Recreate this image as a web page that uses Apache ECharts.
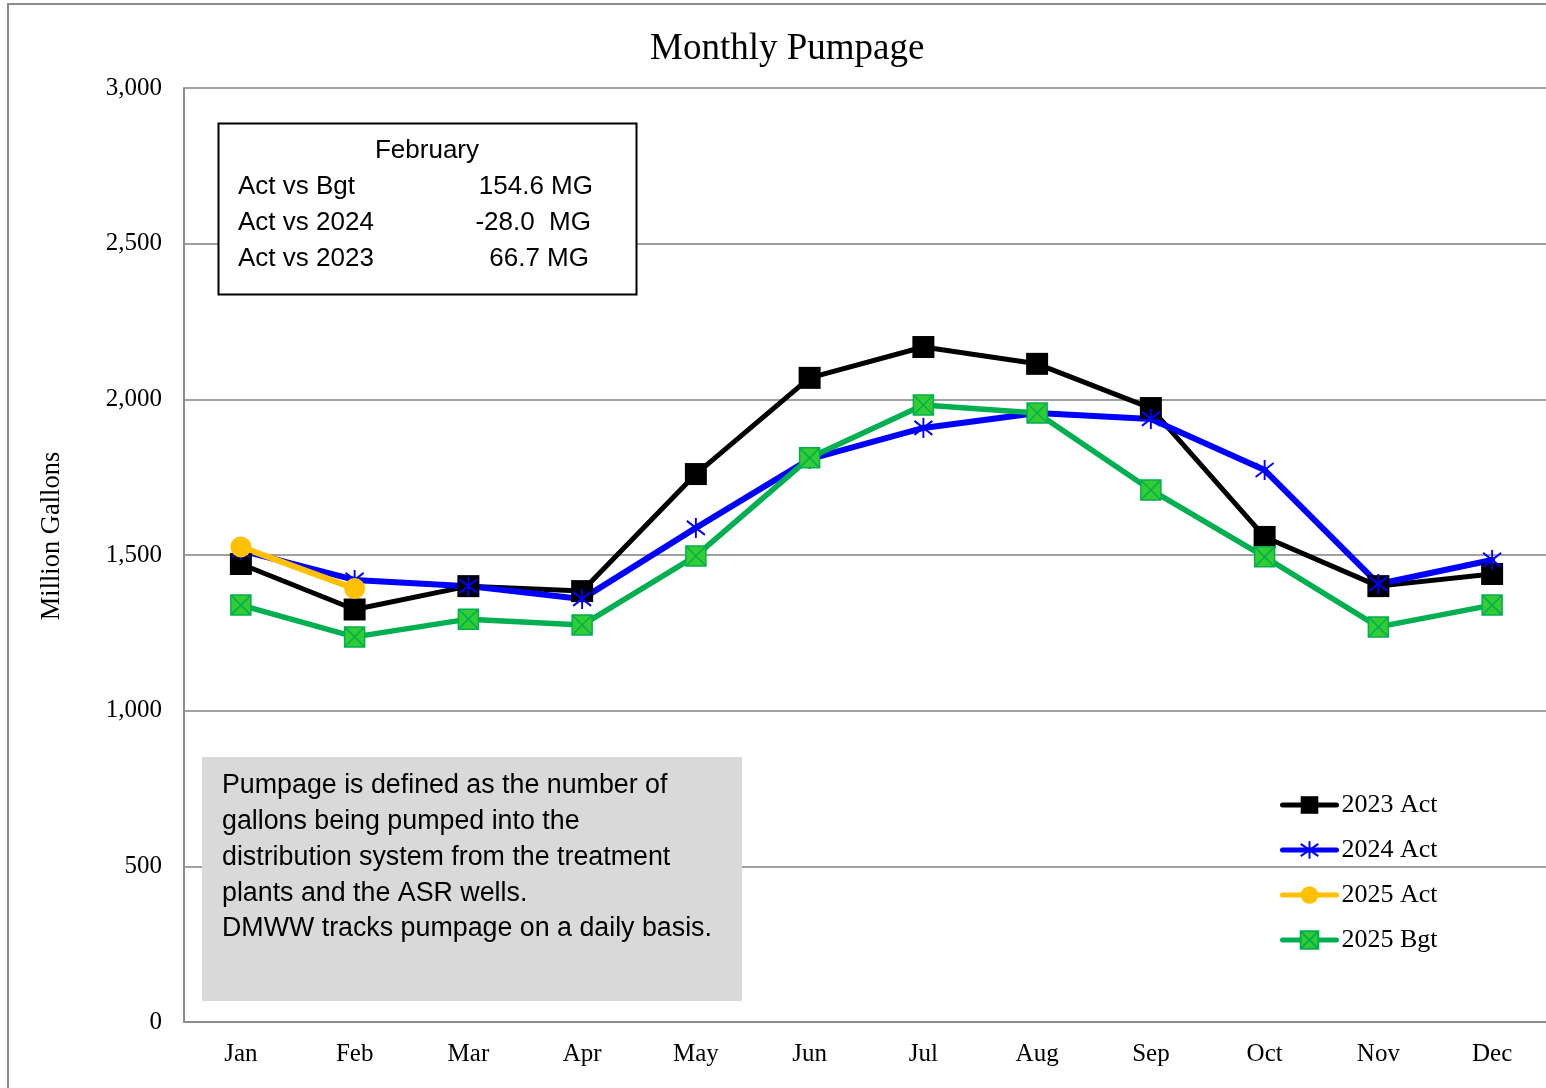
<!DOCTYPE html>
<html>
<head>
<meta charset="utf-8">
<title>Monthly Pumpage</title>
<script src="https://cdn.jsdelivr.net/npm/echarts@6/dist/echarts.min.js"></script>
<style>
html, body { margin: 0; padding: 0; background: #fff; }
#main { width: 1546px; height: 1088px; }
</style>
</head>
<body>
<div id="main"></div>
<script>
// data (million gallons)
var months = ['Jan', 'Feb', 'Mar', 'Apr', 'May', 'Jun', 'Jul', 'Aug', 'Sep', 'Oct', 'Nov', 'Dec'];
var act2023 = [1471, 1325, 1400, 1384, 1760, 2069, 2168, 2114, 1972, 1558, 1400, 1439];
var act2024 = [1515, 1420, 1400, 1359, 1587, 1808, 1908, 1956, 1937, 1773, 1407, 1484];
var act2025 = [1526, 1392];
var bgt2025 = [1339, 1237, 1294, 1275, 1497, 1812, 1982, 1956, 1709, 1494, 1269, 1339];
var yTicks = [0, 500, 1000, 1500, 2000, 2500, 3000];

var serif = '"Liberation Serif", "Times New Roman", serif';
var sans = '"Liberation Sans", Arial, sans-serif';

function addCommas(v) {
    return String(v).replace(/\B(?=(\d{3})+(?!\d))/g, ',');
}

var myChart = echarts.init(document.getElementById('main'));

var option = {
    animation: false,
    backgroundColor: '#fff',
    title: {
        text: 'Monthly Pumpage',
        left: 645,
        top: 26,
        textStyle: { fontFamily: serif, fontSize: 37, fontWeight: 'normal', color: '#000' }
    },
    legend: {
        orient: 'vertical',
        left: 1280,
        top: 792,
        padding: 0,
        itemWidth: 54,
        itemHeight: 22,
        itemGap: 19,
        lineStyle: { width: 5, cap: 'round' },
        textStyle: { fontFamily: serif, fontSize: 26, color: '#000' },
        data: ['2023 Act', '2024 Act', '2025 Act', '2025 Bgt']
    },
    // plot runs a little past the right edge of the picture
    grid: { left: 184, top: 88, width: 1365, height: 934, containLabel: false, outerBoundsMode: 'none' },
    xAxis: {
        type: 'category',
        data: months,
        boundaryGap: true,
        axisLine: { lineStyle: { color: '#8c8c8c', width: 2 } },
        axisTick: { show: false },
        axisLabel: { fontFamily: serif, fontSize: 25, color: '#000', margin: 20 }
    },
    yAxis: {
        type: 'value',
        min: yTicks[0],
        max: yTicks[yTicks.length - 1],
        interval: 500,
        axisLine: { show: true, lineStyle: { color: '#8c8c8c', width: 2 } },
        axisTick: { show: false },
        axisLabel: {
            fontFamily: serif, fontSize: 25, color: '#000', margin: 22,
            formatter: function (v) { return addCommas(v); }
        },
        splitLine: { lineStyle: { color: '#a0a0a0', width: 2 } }
    },
    series: [{
        name: '2023 Act',
        type: 'line',
        data: act2023,
        symbol: 'rect',
        symbolSize: 22,
        itemStyle: { color: '#000' },
        lineStyle: { color: '#000', width: 5, cap: 'round', join: 'round' }
    }, {
        name: '2024 Act',
        type: 'line',
        data: act2024,
        symbol: 'path://M10,0 L10,20 M2,3 L18,17 M18,3 L2,17',
        symbolSize: [18, 20],
        itemStyle: { color: 'rgba(0,0,0,0)', borderColor: '#0000ff', borderWidth: 2 },
        lineStyle: { color: '#0000ff', width: 6, cap: 'round', join: 'round' }
    }, {
        name: '2025 Act',
        type: 'line',
        data: act2025,
        symbol: 'circle',
        symbolSize: 21,
        itemStyle: { color: '#ffc000' },
        lineStyle: { color: '#ffc000', width: 6, cap: 'round', join: 'round' }
    }, {
        name: '2025 Bgt',
        type: 'line',
        data: bgt2025,
        symbol: 'path://M0,0 L20,0 L20,20 L0,20 Z M0,0 L20,20 M20,0 L0,20',
        symbolSize: 20,
        itemStyle: { color: '#33cc33', borderColor: '#00b050', borderWidth: 1.5 },
        lineStyle: { color: '#00b050', width: 5.5, cap: 'round', join: 'round' }
    }],
    graphic: [{
        // outer chart border
        type: 'rect', silent: true, z: -10,
        shape: { x: 8, y: 4, width: 1700, height: 1200 },
        style: { fill: 'none', stroke: '#8c8c8c', lineWidth: 2 }
    }, {
        type: 'text', silent: true, z: 100,
        x: 52, y: 536, rotation: Math.PI / 2,
        style: { text: 'Million Gallons', font: '26.5px ' + serif, fill: '#000', align: 'center', verticalAlign: 'middle' }
    }, {
        // February summary box
        type: 'rect', silent: true, z: 100,
        shape: { x: 218.5, y: 123.5, width: 418, height: 171 },
        style: { fill: '#fff', stroke: '#000', lineWidth: 2 }
    }, {
        type: 'text', silent: true, z: 101, x: 427, y: 151,
        style: { text: 'February', font: '26px ' + sans, fill: '#000', align: 'center', verticalAlign: 'middle' }
    }, {
        type: 'text', silent: true, z: 101, x: 238, y: 187,
        style: { text: 'Act vs Bgt', font: '26px ' + sans, fill: '#000', verticalAlign: 'middle' }
    }, {
        type: 'text', silent: true, z: 101, x: 238, y: 223,
        style: { text: 'Act vs 2024', font: '26px ' + sans, fill: '#000', verticalAlign: 'middle' }
    }, {
        type: 'text', silent: true, z: 101, x: 238, y: 259,
        style: { text: 'Act vs 2023', font: '26px ' + sans, fill: '#000', verticalAlign: 'middle' }
    }, {
        type: 'text', silent: true, z: 101, x: 593, y: 187,
        style: { text: '154.6 MG', font: '26px ' + sans, fill: '#000', align: 'right', verticalAlign: 'middle' }
    }, {
        type: 'text', silent: true, z: 101, x: 591, y: 223,
        style: { text: '-28.0  MG', font: '26px ' + sans, fill: '#000', align: 'right', verticalAlign: 'middle' }
    }, {
        type: 'text', silent: true, z: 101, x: 589, y: 259,
        style: { text: '66.7 MG', font: '26px ' + sans, fill: '#000', align: 'right', verticalAlign: 'middle' }
    }, {
        // definition note
        type: 'rect', silent: true, z: 100,
        shape: { x: 202, y: 757, width: 540, height: 244 },
        style: { fill: '#d9d9d9' }
    }, {
        type: 'text', silent: true, z: 101, x: 222, y: 768,
        style: {
            text: 'Pumpage is defined as the number of\ngallons being pumped into the\ndistribution system from the treatment\nplants and the ASR wells.\nDMWW tracks pumpage on a daily basis.',
            font: '26.8px ' + sans, lineHeight: 35.8, fill: '#000', verticalAlign: 'top'
        }
    }]
};

myChart.setOption(option);
</script>
</body>
</html>
